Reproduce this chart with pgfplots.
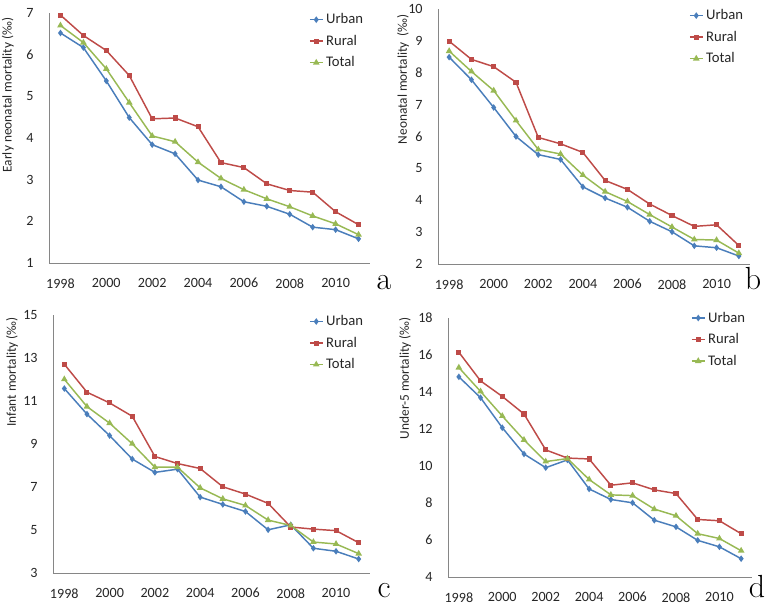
\documentclass[border=0pt]{standalone}
\usepackage{fontspec}
\setmainfont{Carlito}
\usepackage{pgfplots}
\usepackage{pgfplotstable}
\pgfplotsset{compat=1.18}

\definecolor{cU}{HTML}{4A7EBB}
\definecolor{cR}{HTML}{BE4B48}
\definecolor{cT}{HTML}{98B954}
\definecolor{axc}{HTML}{868686}

% year urban rural total
\pgfplotstableread{
year U R T
1998 6.52 6.95 6.70
1999 6.17 6.46 6.29
2000 5.37 6.10 5.66
2001 4.49 5.50 4.85
2002 3.84 4.46 4.05
2003 3.62 4.48 3.91
2004 2.99 4.27 3.42
2005 2.83 3.41 3.03
2006 2.47 3.29 2.76
2007 2.36 2.90 2.54
2008 2.17 2.74 2.35
2009 1.86 2.70 2.13
2010 1.80 2.23 1.94
2011 1.58 1.92 1.68
}\tabA
\pgfplotstableread{
year U R T
1998 8.49 8.99 8.68
1999 7.78 8.42 8.04
2000 6.91 8.19 7.44
2001 6.00 7.70 6.50
2002 5.43 5.97 5.59
2003 5.28 5.77 5.45
2004 4.42 5.50 4.79
2005 4.07 4.62 4.27
2006 3.78 4.34 3.96
2007 3.34 3.88 3.55
2008 3.01 3.52 3.16
2009 2.57 3.18 2.77
2010 2.51 3.23 2.75
2011 2.25 2.58 2.34
}\tabB
\pgfplotstableread{
year U R T
1998 11.58 12.71 12.01
1999 10.39 11.41 10.74
2000 9.39 10.91 9.97
2001 8.30 10.29 9.01
2002 7.68 8.42 7.92
2003 7.83 8.09 7.92
2004 6.53 7.86 6.96
2005 6.19 7.01 6.45
2006 5.86 6.67 6.14
2007 5.01 6.24 5.46
2008 5.24 5.14 5.21
2009 4.15 5.04 4.44
2010 4.01 4.97 4.35
2011 3.65 4.41 3.90
}\tabC
\pgfplotstableread{
year U R T
1998 14.82 16.15 15.32
1999 13.69 14.60 14.03
2000 12.07 13.76 12.70
2001 10.65 12.81 11.41
2002 9.91 10.87 10.24
2003 10.33 10.43 10.40
2004 8.76 10.38 9.27
2005 8.19 8.96 8.44
2006 8.01 9.09 8.40
2007 7.07 8.71 7.67
2008 6.71 8.51 7.31
2009 5.98 7.11 6.34
2010 5.63 7.04 6.08
2011 4.99 6.34 5.42
}\tabD

\pgfplotsset{
  panel/.style={
    scale only axis,
    axis x line*=bottom, axis y line*=left,
    axis line style={axc, line width=0.6pt},
    xmin=1997.5, xmax=2011.5,
    xtick={1998,2000,...,2010},
    xticklabel style={/pgf/number format/1000 sep={}, yshift=-8pt},
    yticklabel style={xshift=-8pt},
    major tick length=0pt,
    tick label style={font=\fontsize{10.6}{12}\selectfont, text=black!85},
    /pgf/number format/assume math mode=true,
    ylabel style={font=\fontsize{10}{11}\selectfont, text=black!85, anchor=center},
    legend style={draw=none, fill=none, at={(1,1.02)}, anchor=north east,
      font=\fontsize{11}{12}\selectfont, row sep=3pt, text=black!85},
    legend cell align=left,
    legend image code/.code={\draw[mark repeat=2, mark phase=2] plot coordinates {(0cm,0cm) (0.17cm,0cm) (0.34cm,0cm)};},
  },
  pU/.style={cU, line width=1.1pt, mark=diamond*, mark size=1.6pt, mark options={solid, fill=cU}},
  pR/.style={cR, line width=1.1pt, mark=square*, mark size=1.35pt, mark options={solid, fill=cR}},
  pT/.style={cT, line width=1.1pt, mark=triangle*, mark size=1.8pt, mark options={solid, fill=cT}},
}

\begin{document}
\begin{tikzpicture}
\path[use as bounding box] (0,0) rectangle (767*0.75pt,-605*0.75pt);

\begin{axis}[panel, at={(49*0.75pt,-263*0.75pt)}, anchor=south west,
  width=321*0.75pt, height=250*0.75pt,
  ymin=1, ymax=7, ytick={1,2,...,7},
  ylabel style={at={(axis description cs:-0.128,0.672)}},
  ylabel={Early neonatal mortality (‰)}]
\addplot[pU] table[x=year, y=U] {\tabA}; \addlegendentry{Urban}
\addplot[pR] table[x=year, y=R] {\tabA}; \addlegendentry{Rural}
\addplot[pT] table[x=year, y=T] {\tabA}; \addlegendentry{Total}
\end{axis}

\begin{axis}[panel, at={(438*0.75pt,-264*0.75pt)}, anchor=south west,
  width=312*0.75pt, height=255*0.75pt,
  ymin=2, ymax=10, ytick={2,3,...,10},
  ylabel style={at={(axis description cs:-0.112,0.725)}},
  ylabel={Neonatal mortality\ \ (‰)}]
\addplot[pU] table[x=year, y=U] {\tabB}; \addlegendentry{Urban}
\addplot[pR] table[x=year, y=R] {\tabB}; \addlegendentry{Rural}
\addplot[pT] table[x=year, y=T] {\tabB}; \addlegendentry{Total}
\end{axis}

\begin{axis}[panel, at={(53*0.75pt,-573*0.75pt)}, anchor=south west,
  width=317*0.75pt, height=258*0.75pt,
  ymin=3, ymax=15, ytick={3,5,...,15},
  ylabel style={at={(axis description cs:-0.129,0.779)}},
  ylabel={Infant mortality (‰)}]
\addplot[pU] table[x=year, y=U] {\tabC}; \addlegendentry{Urban}
\addplot[pR] table[x=year, y=R] {\tabC}; \addlegendentry{Rural}
\addplot[pT] table[x=year, y=T] {\tabC}; \addlegendentry{Total}
\end{axis}

\begin{axis}[panel, at={(448*0.75pt,-577*0.75pt)}, anchor=south west,
  width=304*0.75pt, height=259*0.75pt,
  ymin=4, ymax=18, ytick={4,6,...,18},
  ylabel style={at={(axis description cs:-0.141,0.768)}},
  legend style={at={(1,1.045)}},
  ylabel={Under-5 mortality (‰)}]
\addplot[pU] table[x=year, y=U] {\tabD}; \addlegendentry{Urban}
\addplot[pR] table[x=year, y=R] {\tabD}; \addlegendentry{Rural}
\addplot[pT] table[x=year, y=T] {\tabD}; \addlegendentry{Total}
\end{axis}

\begin{scope}[every node/.style={anchor=base, inner sep=0pt, font=\fontfamily{lmr}\fontsize{24}{24}\selectfont}]
\node at (384*0.75pt,-290*0.75pt) {a};
\node at (753*0.75pt,-290*0.75pt) {b};
\node at (384*0.75pt,-597*0.75pt) {c};
\node at (757*0.75pt,-597*0.75pt) {d};
\end{scope}
\end{tikzpicture}
\end{document}
